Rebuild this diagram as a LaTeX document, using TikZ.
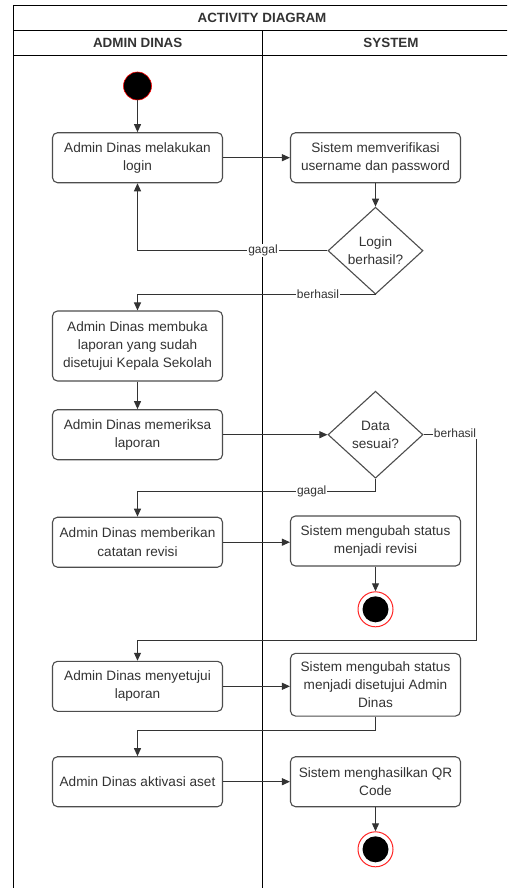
\documentclass[tikz,border=0pt]{standalone}
\usepackage{fontspec}
\setmainfont{Liberation Sans}
\usetikzlibrary{shapes.geometric,arrows.meta}
\definecolor{ink}{HTML}{333333}
\definecolor{edgegray}{HTML}{4D4D4D}

\begin{document}
\begin{tikzpicture}[x=1pt,y=-1pt,
  act/.style={draw=edgegray, line width=1.1pt, rounded corners=5pt, fill=white, text=ink,
    minimum width=170pt, minimum height=50pt, align=center, inner sep=2pt,
    font=\fontsize{13.6}{18.3}\selectfont},
  dec/.style={diamond, draw=edgegray, line width=1.1pt, fill=white, text=ink,
    minimum width=95pt, minimum height=87pt, inner sep=0pt, align=center,
    font=\fontsize{13.6}{18.3}\selectfont},
  flow/.style={draw=ink, line width=1pt, -{Triangle[length=8pt,width=7pt]}},
  lbl/.style={fill=white, inner sep=1pt, text=ink, font=\fontsize{12}{14}\selectfont},
  startnode/.style={circle, fill=black, draw=red, line width=0.6pt, minimum size=28pt, inner sep=0pt},
  endnode/.style={circle, draw=red!85, line width=1pt, minimum size=35pt, inner sep=0pt,
    path picture={\fill[black] (path picture bounding box.center) circle (13pt);}},
  lane/.style={draw=black, line width=0.9pt},
  head/.style={font=\bfseries\fontsize{13.4}{16}\selectfont, text=ink}
]
\clip (0,0) rectangle (507,888);
\fill[white] (0,0) rectangle (507,888);

% swimlane frame
\draw[lane] (13.5,5) -- (520,5);
\draw[lane] (13.5,30.7) -- (520,30.7);
\draw[lane] (13.5,55) -- (520,55);
\draw[lane] (13.5,5) -- (13.5,900);
\draw[lane] (262,30.7) -- (262,900);
\node[head] (title) at (262,18) {ACTIVITY DIAGRAM};
\node[head] (laneA) at (137.7,43) {ADMIN DINAS};
\node[head] (laneB) at (391,43) {SYSTEM};

% activities
\node[startnode] (start) at (137.5,86) {};
\node[act] (login) at (137.5,157.7) {Admin Dinas melakukan\\login};
\node[act] (verif) at (375.5,157.7) {Sistem memverifikasi\\username dan password};
\node[dec] (okLogin) at (375.5,250.7) {Login\\berhasil?};
\node[act, minimum height=70pt] (buka) at (137.5,346) {Admin Dinas membuka\\laporan yang sudah\\disetujui Kepala Sekolah};
\node[act] (periksa) at (137.5,434.7) {Admin Dinas memeriksa\\laporan};
\node[dec] (sesuai) at (375.5,434.7) {Data\\sesuai?};
\node[act] (revisi) at (137.5,542.2) {Admin Dinas memberikan\\catatan revisi};
\node[act] (statRev) at (375.5,541) {Sistem mengubah status\\menjadi revisi};
\node[endnode] (end1) at (375.5,609.3) {};
\node[act] (setuju) at (137.5,686.3) {Admin Dinas menyetujui\\laporan};
\node[act, minimum height=62.7pt] (statOk) at (375.5,684.7) {Sistem mengubah status\\menjadi disetujui Admin\\Dinas};
\node[act] (aktivasi) at (137.5,781.7) {Admin Dinas aktivasi aset};
\node[act] (qr) at (375.5,781.7) {Sistem menghasilkan QR\\Code};
\node[endnode] (end2) at (375.5,849.3) {};

% transitions
\draw[flow] (start) -- (login);
\draw[flow] (login) -- (verif);
\draw[flow] (verif) -- (okLogin);
\draw[flow] (okLogin.west) -| (login.south);
\node[lbl] (lblGagal1) at (263,250.7) {gagal};
\draw[flow] (okLogin.south) -| (buka.north);
\node[lbl] (lblOk1) at (318,294) {berhasil};
\draw[flow] (buka) -- (periksa);
\draw[flow] (periksa) -- (sesuai.west);
\coordinate (turnR) at (476,434.7);
\coordinate (turnD) at (476,640);
\draw[flow] (sesuai.east) -- (turnR) -- (turnD) -| (setuju.north);
\node[lbl] (lblOk2) at (455,433.5) {berhasil};
\coordinate (turnG) at (375.5,491);
\draw[flow] (sesuai.south) -- (turnG) -| (revisi.north);
\node[lbl] (lblGagal2) at (311.7,491) {gagal};
\draw[flow] (revisi) -- (revisi -| statRev.west);
\draw[flow] (statRev) -- (end1);
\draw[flow] (setuju) -- (setuju -| statOk.west);
\coordinate (turnS) at (375.5,730.7);
\draw[flow] (statOk.south) -- (turnS) -| (aktivasi.north);
\draw[flow] (aktivasi) -- (qr);
\draw[flow] (qr) -- (end2);
\end{tikzpicture}
\end{document}
